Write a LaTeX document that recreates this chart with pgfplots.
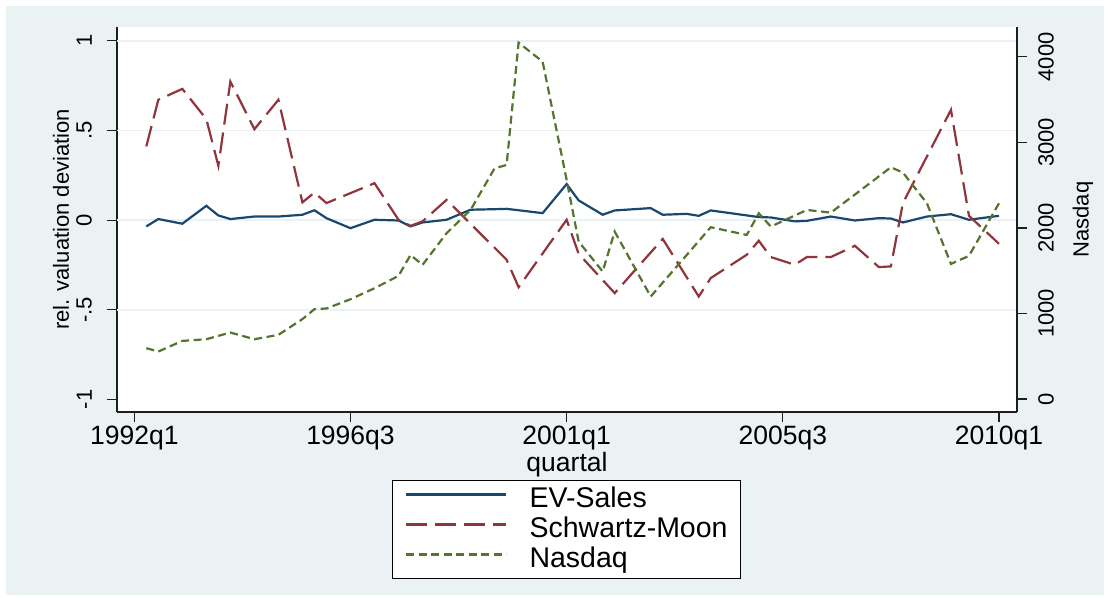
\documentclass[border=0pt]{standalone}
\usepackage{fontspec}
\setmainfont{Liberation Sans}
\usepackage{pgfplots}
\pgfplotsset{compat=1.18}
\definecolor{bgc}{RGB}{234,242,243}
\definecolor{evc}{RGB}{26,71,111}
\definecolor{smc}{RGB}{144,53,59}
\definecolor{ndc}{RGB}{85,117,47}
\definecolor{gridc}{RGB}{234,242,243}
\definecolor{axc}{RGB}{30,30,30}
\newcommand\hfont{\fontsize{26.5bp}{30bp}\selectfont}
\newcommand\vfont{\fontsize{22bp}{26bp}\selectfont}
\newcommand\lfont{\fontsize{28.5bp}{32bp}\selectfont}

\pgfplotstableread{
x y
1 -0.035
2 0.006
4 -0.020
6 0.080
7 0.026
8 0.006
10 0.020
12 0.020
14 0.030
15 0.055
16 0.011
18 -0.045
20 0.002
22 -0.002
23 -0.035
24 -0.013
26 0.002
28 0.058
30 0.061
31 0.063
34 0.039
36 0.201
37 0.110
39 0.030
40 0.054
43 0.067
44 0.030
46 0.035
47 0.024
48 0.054
52 0.017
53 0.015
55 -0.007
56 -0.004
58 0.020
60 -0.002
62 0.011
63 0.009
64 -0.013
66 0.020
68 0.033
69.5 0.002
72 0.024
}\evsales

\pgfplotstableread{
x y
1 0.411
2 0.671
4 0.732
6 0.563
7 0.303
8 0.773
10 0.507
12 0.671
14 0.099
15 0.154
16 0.095
20 0.206
22 0.002
23 -0.032
24 -0.007
26 0.113
31 -0.221
32 -0.374
36 0.002
37 -0.188
40 -0.407
44 -0.105
47 -0.426
48 -0.323
51 -0.193
52 -0.115
53 -0.206
55 -0.249
56 -0.206
58 -0.206
60 -0.143
62 -0.262
63 -0.258
64 0.095
68 0.615
69.5 0.024
72 -0.132
}\schwartz

\pgfplotstableread{
x y
1 594
2 555
4 679
6 699
8 777
10 699
12 750
14 934
15 1050
16 1058
18 1166
20 1295
22 1439
23 1684
24 1568
26 1938
28 2210
30 2697
31 2736
32 4166
34 3944
36 2561
37 1840
39 1490
40 1957
43 1198
48 2008
51 1918
52 2171
53 2016
56 2210
58 2179
60 2390
63 2709
64 2647
66 2288
68 1579
69.5 1673
72 2288
}\nasdaq

\begin{document}
\begin{tikzpicture}
\fill[white] (0,0) rectangle (1110bp,599bp);
\fill[bgc] (6bp,4bp) rectangle (1104bp,593bp);
\fill[white] (117bp,187bp) rectangle (1017bp,572bp);
\begin{axis}[
  at={(117bp,187bp)}, anchor=south west,
  width=900bp, height=385bp, scale only axis,
  xmin=-1.44, xmax=73.5, ymin=-1.07, ymax=1.077,
  axis x line*=bottom, axis y line*=left,
  axis line style={axc, line width=1.5bp},
  every tick/.style={axc, line width=1.2bp},
  tick align=outside, major tick length=10bp,
  xtick={0,18,36,54,72},
  xticklabels={1992q1,1996q3,2001q1,2005q3,2010q1},
  ytick={-1,-0.5,0,0.5,1},
  yticklabels={-1,-.5,0,.5,1},
  xticklabel style={font=\hfont, inner sep=0pt, anchor=north, yshift=-4bp},
  yticklabel style={font=\vfont, inner sep=0pt, xshift=-15bp, rotate=90, anchor=south},
  extra y ticks={-0.5,0,0.5,1},
  extra y tick labels={},
  extra y tick style={grid=major, major tick length=0pt},
  major grid style={gridc, line width=1.8bp},
  xlabel={quartal},
  xlabel style={font=\hfont, at={(axis description cs:0.5,-0.137)}, anchor=center},
  ylabel={rel. valuation deviation},
  ylabel style={font=\vfont, at={(axis description cs:-0.0622,0.5)}, anchor=center},
  legend style={
    at={(0.4994,-0.1766)}, anchor=north,
    draw=black, line width=1bp, fill=white,
    inner xsep=13bp, inner ysep=6bp,
    font=\lfont, row sep=4bp,
    nodes={inner sep=0pt, text height=21bp, text depth=5bp},
    /tikz/every odd column/.append style={column sep=22bp},
  },
  legend cell align=left,
  legend image code/.code={\draw[#1] (0bp,5bp) -- (100bp,5bp);},
]
\addplot[evc, line width=2.2bp] table[x=x,y=y] {\evsales};
\addlegendentry{EV-Sales}
\addplot[smc, line width=2.2bp, dash pattern=on 21bp off 8bp] table[x=x,y=y] {\schwartz};
\addlegendentry{Schwartz-Moon}
\addlegendimage{ndc, line width=2.2bp, dash pattern=on 8bp off 4.5bp}
\addlegendentry{Nasdaq}
\end{axis}
\begin{axis}[
  at={(117bp,187bp)}, anchor=south west,
  width=900bp, height=385bp, scale only axis,
  xmin=-1.44, xmax=73.5, ymin=-152, ymax=4349,
  axis x line=none, axis y line*=right,
  axis line style={axc, line width=1.5bp},
  every tick/.style={axc, line width=1.2bp},
  tick align=outside, major tick length=10bp,
  ytick={0,1000,2000,3000,4000},
  yticklabels={0,1000,2000,3000,4000},
  yticklabel style={font=\vfont, inner sep=0pt, xshift=11bp, rotate=90, anchor=north},
  ylabel={Nasdaq},
  ylabel style={font=\vfont, at={(axis description cs:1.0733,0.5)}, anchor=center},
]
\addplot[ndc, line width=2.2bp, dash pattern=on 8bp off 4.5bp] table[x=x,y=y] {\nasdaq};
\end{axis}
\end{tikzpicture}
\end{document}
